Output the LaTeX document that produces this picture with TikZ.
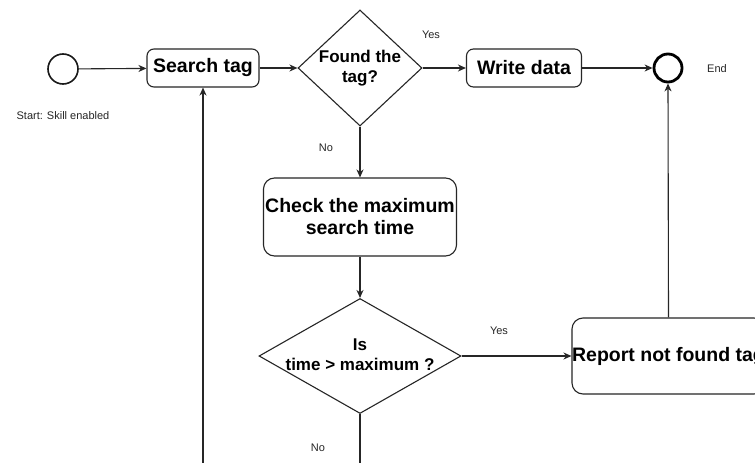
\documentclass[tikz,border=0pt]{standalone}
\usepackage{fontspec}
\setmainfont{Liberation Sans}
\usetikzlibrary{shapes.geometric,arrows.meta}
\begin{document}
\begin{tikzpicture}[x=1pt,y=-1pt,
  line/.style={draw=black!85, line width=1.1pt},
  arr/.style={line, -{Stealth[length=8pt,width=7pt,inset=2.5pt]}},
  box/.style={draw=black!85, line width=1.1pt, rounded corners=7pt, inner sep=0pt},
  dia/.style={diamond, draw=black!85, line width=1.1pt, inner sep=0pt, aspect=1},
  bigtxt/.style={font=\fontsize{19.5}{22}\selectfont\bfseries, align=center},
  medtxt/.style={font=\fontsize{17}{20}\selectfont\bfseries, align=center},
  small/.style={font=\fontsize{11}{13}\selectfont, text=black!85}]
\useasboundingbox (0,0) rectangle (755,463);
\clip (0,0) rectangle (755,463);
\fill[white] (0,0) rectangle (755,463);
% nodes
\node[circle, draw=black!90, line width=1.6pt, minimum size=30pt, inner sep=0pt] (start) at (63,69) {};
\node[small] (startlbl) at (63,116) {Start: Skill enabled};
\node[box, minimum width=112pt, minimum height=38pt, bigtxt] (search) at (203,68) {Search tag};
\node[dia, minimum width=124pt, minimum height=116pt] (found) at (360,68) {};
\node[medtxt] (foundtxt) at (360,68) {Found the\\tag?};
\node[box, minimum width=115pt, minimum height=38pt, bigtxt] (write) at (524,68) {Write data};
\node[circle, draw=black, line width=2.8pt, minimum size=28pt, inner sep=0pt] (end) at (668,68) {};
\node[small] (endlbl) at (717,69) {End};
\node[box, rounded corners=11pt, minimum width=193pt, minimum height=78pt] (check) at (360,217) {};
\node[bigtxt] (checktxt) at (360,217) {Check the maximum\\search time};
\node[dia, minimum width=202pt, minimum height=115pt] (ismax) at (360,356) {};
\node[medtxt] (ismaxtxt) at (360,355) {Is\\time > maximum ?};
\node[box, rounded corners=11pt, minimum width=193pt, minimum height=76pt] (report) at (668.5,356) {};
\node[bigtxt] (reporttxt) at (668.5,356) {Report not found tag};
% labels
\node[small] (yes1) at (431,35) {Yes};
\node[small] (no1) at (326,148) {No};
\node[small] (yes2) at (499,331) {Yes};
\node[small] (no2) at (318,448) {No};
% free ends
\coordinate (bot1) at (360,470);
\coordinate (bot2) at (203,470);
% connectors
\draw[arr] (start) -- (search);
\draw[arr] (search) -- (found.west);
\draw[arr] (found.east) -- (write);
\draw[arr] (write) -- (end);
\draw[arr] (found.south) -- (check);
\draw[arr] (check) -- (ismax.north);
\draw[arr] (ismax.east) -- (report.west);
\draw[arr] (report.north) -- (end.south);
\draw[line] (ismax.south) -- (bot1);
\draw[arr] (bot2) -- (search.south);
\end{tikzpicture}
\end{document}
